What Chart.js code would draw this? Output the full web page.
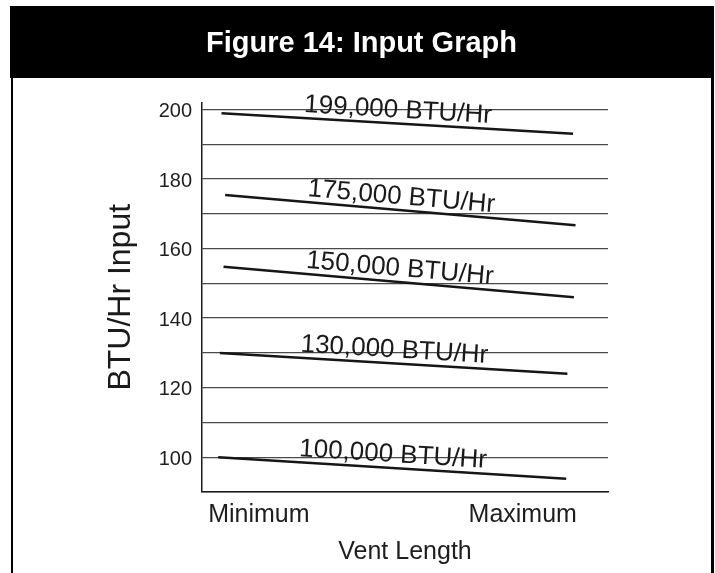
<!DOCTYPE html>
<html>
<head>
<meta charset="utf-8">
<title>Figure 14: Input Graph</title>
<script src="https://cdn.jsdelivr.net/npm/chart.js@4/dist/chart.umd.min.js"></script>
<style>
  html, body { margin: 0; padding: 0; background: #fff; }
  #wrap { width: 715px; height: 573px; }
</style>
</head>
<body>
<div id="wrap"><canvas id="inputGraph" width="715" height="573"></canvas></div>
<script>
// Firing rate lines: input (thousand BTU/Hr) at the short and long ends of the vent run
const inputRatings   = ['199,000 BTU/Hr', '175,000 BTU/Hr', '150,000 BTU/Hr', '130,000 BTU/Hr', '100,000 BTU/Hr'];
const inputAtMinimum = [198.9, 175.4, 154.8, 130.0, 100.0];
const inputAtMaximum = [193.0, 166.7, 146.0, 124.0, 93.8];
// Vent length on a 0-100 relative scale
const ventStart = [4.8, 5.7, 5.3, 4.4, 4.0];
const ventEnd   = [91.4, 92.0, 91.6, 90.0, 89.7];
const ventTickValues = [14, 79];
const ventTickLabels = ['Minimum', 'Maximum'];
const inputTickLabels = [100, 120, 140, 160, 180, 200];

const FONT = "'Liberation Sans', Arial, Helvetica, sans-serif";
Chart.defaults.font.family = FONT;
Chart.defaults.color = '#1e1e1e';

const datasets = inputRatings.map((label, i) => ({
  label,
  data: [
    { x: ventStart[i], y: inputAtMinimum[i] },
    { x: ventEnd[i],   y: inputAtMaximum[i] }
  ],
  yAxisID: 'y',
  borderColor: '#161616',
  borderWidth: 2.5,
  pointRadius: 0,
  tension: 0,
  fill: false
}));

// Black header band and the side rules of the figure frame
const framePlugin = {
  id: 'frame',
  beforeDraw(chart) {
    const { ctx, width, height } = chart;
    ctx.save();
    ctx.fillStyle = '#fff';
    ctx.fillRect(0, 0, width, height);
    ctx.fillStyle = '#000';
    ctx.fillRect(10, 6, width - 11, 72);
    ctx.fillRect(11, 78, 2, height - 78);
    ctx.fillRect(width - 4, 78, 3, height - 78);
    ctx.restore();
  }
};

// Rating text set just above each line, tilted with it
const lineLabelPlugin = {
  id: 'lineLabels',
  afterDatasetsDraw(chart) {
    const ctx = chart.ctx;
    chart.data.datasets.forEach((ds, i) => {
      const pts = chart.getDatasetMeta(i).data;
      const a = pts[0], b = pts[1];
      const ang = Math.atan2(b.y - a.y, b.x - a.x);
      ctx.save();
      ctx.translate((a.x + b.x) / 2, (a.y + b.y) / 2);
      ctx.rotate(ang);
      ctx.font = '26px ' + FONT;
      ctx.fillStyle = '#1a1a1a';
      ctx.textAlign = 'center';
      ctx.textBaseline = 'alphabetic';
      ctx.fillText(ds.label, 0, -6);
      ctx.restore();
    });
  }
};

new Chart(document.getElementById('inputGraph'), {
  type: 'line',
  data: { datasets },
  plugins: [framePlugin, lineLabelPlugin],
  options: {
    responsive: false,
    animation: false,
    devicePixelRatio: 1,
    layout: { padding: { left: 8, right: 0, top: 0, bottom: 0 } },
    plugins: {
      legend: { display: false },
      tooltip: { enabled: false },
      title: {
        display: true,
        text: 'Figure 14: Input Graph',
        color: '#ffffff',
        font: { size: 29, weight: 'bold' },
        padding: { top: 26.6, bottom: 41.1 }
      }
    },
    scales: {
      x: {
        type: 'linear',
        min: 0,
        max: 100,
        afterBuildTicks(scale) {
          scale.ticks = ventTickValues.map(v => ({ value: v }));
        },
        afterFit(scale) { scale.height = 81; },
        ticks: {
          padding: 8,
          maxRotation: 0,
          autoSkip: false,
          color: '#1e1e1e',
          font: { size: 25 },
          callback: (v) => ventTickLabels[ventTickValues.indexOf(v)] ?? ''
        },
        grid: { drawOnChartArea: false, drawTicks: false },
        border: { display: true, color: '#1a1a1a', width: 1.5 },
        title: {
          display: true,
          text: 'Vent Length',
          color: '#1e1e1e',
          font: { size: 25 },
          padding: { top: 0, bottom: 6 }
        }
      },
      y: {
        type: 'linear',
        position: 'left',
        min: 90,
        max: 202,
        afterFit(scale) { scale.width = 194; },
        ticks: {
          stepSize: 10,
          includeBounds: false,
          padding: 10,
          labelOffset: 2,
          color: '#1e1e1e',
          font: { size: 20 },
          callback: (v) => inputTickLabels.includes(v) ? String(v) : ''
        },
        grid: { color: '#4a4a4a', lineWidth: 1.3, drawTicks: false },
        border: { display: true, color: '#1a1a1a', width: 1.5 },
        title: {
          display: true,
          text: 'BTU/Hr Input',
          color: '#1a1a1a',
          font: { size: 32 },
          padding: { top: 93.8, bottom: 0 }
        }
      },
      yRight: {
        type: 'linear',
        position: 'right',
        display: true,
        afterFit(scale) { scale.width = 107; },
        ticks: { display: false },
        grid: { display: false, drawTicks: false },
        border: { display: false }
      }
    }
  }
});
</script>
</body>
</html>
